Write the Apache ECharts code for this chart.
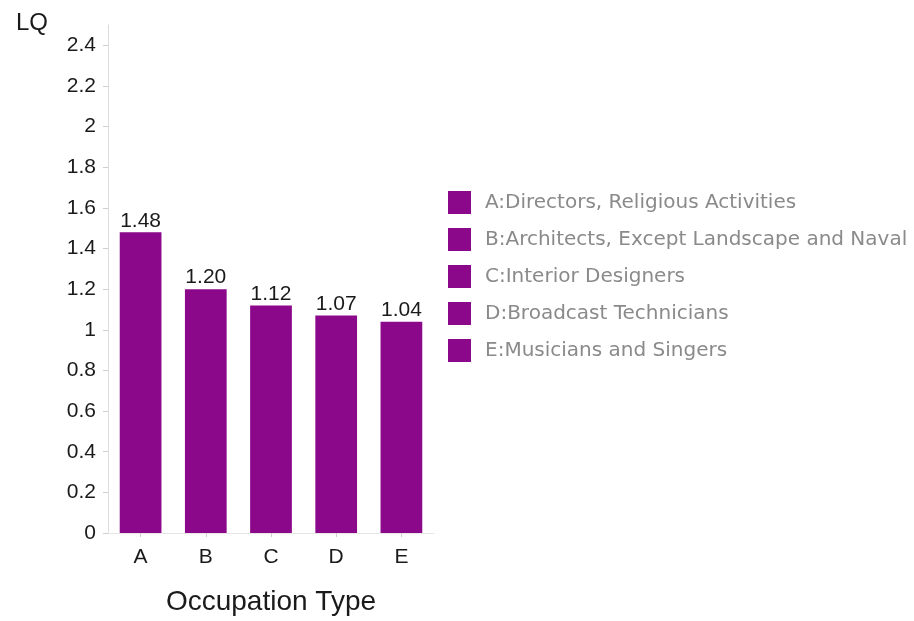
<!DOCTYPE html>
<html>
<head>
<meta charset="utf-8">
<script src="https://cdn.jsdelivr.net/npm/echarts@6/dist/echarts.min.js"></script>
<style>
  html, body { margin: 0; padding: 0; background: #fff; }
  #chart { width: 914px; height: 621px; }
</style>
</head>
<body>
<div id="chart"></div>
<script>
// Location quotient by occupation
const categories = ['A', 'B', 'C', 'D', 'E'];
const occupationNames = [
  'A:Directors, Religious Activities',
  'B:Architects, Except Landscape and Naval',
  'C:Interior Designers',
  'D:Broadcast Technicians',
  'E:Musicians and Singers'
];
const lqValues = [1.48, 1.20, 1.12, 1.07, 1.04];

const barColor = '#8b088b';
const font = 'Liberation Sans, Arial, Helvetica, sans-serif';
const legendFont = 'DejaVu Sans, sans-serif';

// one series per occupation so each gets its own legend entry
const series = occupationNames.map((name, i) => ({
  name: name,
  type: 'bar',
  stack: 'lq',
  barWidth: '64%',
  itemStyle: { color: barColor },
  label: {
    show: true,
    position: 'top',
    distance: 1,
    color: '#1a1a1a',
    fontSize: 21,
    fontFamily: font,
    formatter: p => p.value.toFixed(2)
  },
  data: categories.map((c, j) => (j === i ? lqValues[i] : null))
}));

const chart = echarts.init(document.getElementById('chart'));
chart.setOption({
  backgroundColor: '#fff',
  animation: false,
  grid: { left: 108, right: 480, top: 25, bottom: 88 },
  legend: {
    orient: 'vertical',
    left: 443,
    top: 186,
    icon: 'rect',
    itemWidth: 23,
    itemHeight: 23,
    itemGap: 14,
    selectedMode: false,
    textStyle: {
      color: '#8a8a8a', fontSize: 20, fontFamily: legendFont,
      padding: [0, 0, 0, 9]
    },
    data: occupationNames
  },
  xAxis: {
    type: 'category',
    data: categories,
    name: 'Occupation Type',
    nameLocation: 'middle',
    nameGap: 55,
    nameTextStyle: { color: '#1a1a1a', fontSize: 28, fontFamily: font },
    axisLine: { show: true, lineStyle: { color: '#e6e6e6', width: 1 } },
    axisTick: { show: true, alignWithLabel: true, length: 4, lineStyle: { color: '#d0d0d0' } },
    axisLabel: { color: '#1a1a1a', fontSize: 21, fontFamily: font, margin: 14 },
    splitLine: { show: false }
  },
  yAxis: {
    type: 'value',
    min: 0,
    max: 2.5,
    interval: 0.2,
    name: 'LQ',
    nameLocation: 'end',
    nameGap: 2,
    nameTextStyle: {
      color: '#1a1a1a', fontSize: 24, fontFamily: font,
      align: 'right', verticalAlign: 'middle', padding: [0, 60, 0, 0]
    },
    axisLine: { show: true, lineStyle: { color: '#dcdcdc', width: 1 } },
    axisTick: { show: true, length: 5, lineStyle: { color: '#cfcfcf' } },
    axisLabel: {
      color: '#1a1a1a', fontSize: 21, fontFamily: font, margin: 12,
      showMaxLabel: false,
      formatter: v => String(Math.round(v * 10) / 10)
    },
    splitLine: { show: false }
  },
  series: series
});
</script>
</body>
</html>
